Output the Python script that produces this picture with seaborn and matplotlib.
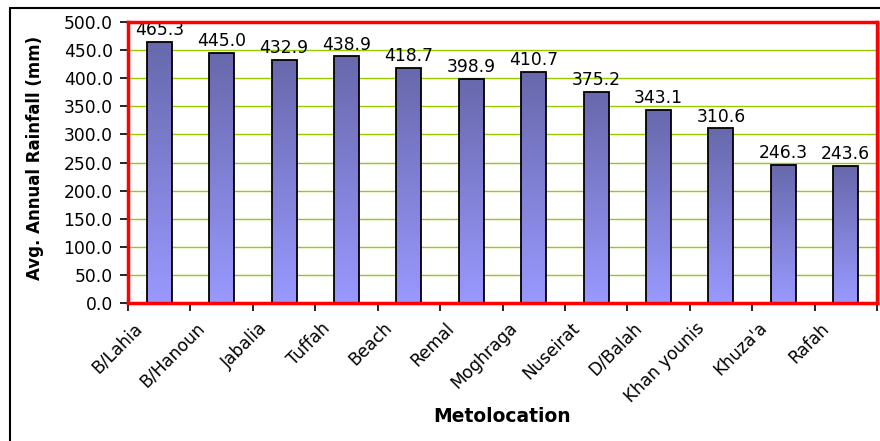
import numpy as np
import pandas as pd
import matplotlib
matplotlib.use("Agg")
import matplotlib.pyplot as plt
import matplotlib.transforms as mtransforms
from matplotlib.colors import LinearSegmentedColormap
import seaborn as sns

locations = ["B/Lahia", "B/Hanoun", "Jabalia", "Tuffah", "Beach", "Remal",
             "Moghraga", "Nuseirat", "D/Balah", "Khan younis", "Khuza'a", "Rafah"]
rainfall = [465.3, 445.0, 432.9, 438.9, 418.7, 398.9, 410.7, 375.2, 343.1, 310.6, 246.3, 243.6]
y_ticks = [0, 50, 100, 150, 200, 250, 300, 350, 400, 450, 500]

df = pd.DataFrame({"Metolocation": locations, "Rainfall": rainfall})

sns.set_theme(style="white")
plt.rcParams["font.family"] = ["DejaVu Sans"]
plt.rcParams["text.color"] = "black"
plt.rcParams["xtick.color"] = "black"
plt.rcParams["ytick.color"] = "black"

W, H = 880, 441
fig = plt.figure(figsize=(W / 100, H / 100), dpi=100)
fig.patch.set_facecolor("white")

left, right, top, bottom = 128, 877, 22, 303
ax = fig.add_axes([left / W, 1 - bottom / H, (right - left) / W, (bottom - top) / H])

sns.barplot(data=df, x="Metolocation", y="Rainfall", ax=ax, width=0.4,
            color="#9999ff", edgecolor="black", linewidth=1.3, zorder=3)

# gradient fill for each bar
cmap = LinearSegmentedColormap.from_list("bar", ["#9999ff", "#6868ac"])
grad = np.linspace(0, 1, 256).reshape(-1, 1)
for p in ax.patches:
    x0, y0 = p.get_x(), p.get_y()
    w, h = p.get_width(), p.get_height()
    im = ax.imshow(grad, cmap=cmap, aspect="auto", origin="lower",
                   extent=[x0, x0 + w, y0, y0 + h], zorder=2.9, interpolation="bilinear")
    im.set_clip_path(p)
    p.set_facecolor("none")
ax.set_xlim(-0.5, len(locations) - 0.5)
ax.set_ylim(0, 500)

# gridlines
ax.set_yticks(y_ticks)
ax.set_yticklabels([f"{v:.1f}" for v in y_ticks])
for v in y_ticks[1:-1]:
    ax.axhline(v, color="#99cc00", linewidth=1.0, zorder=1)

# value labels
for i, v in enumerate(rainfall):
    ax.annotate(f"{v:.1f}", (i, v), xytext=(0, 2), textcoords="offset points",
                ha="center", va="bottom", fontsize=12.3, color="black", zorder=5)

# x ticks at category boundaries, labels at centers
ax.set_xticks(np.arange(-0.5, len(locations), 1.0))
ax.set_xticklabels([])
ax.tick_params(axis="x", which="major", direction="out", length=6, width=1.2,
               color="black", bottom=True)
ax.tick_params(axis="y", direction="out", length=6, width=1.2, color="black",
               left=True, labelsize=12.3, pad=5, labelcolor="black")
offset = mtransforms.ScaledTranslation(-13 / 100, -16 / 100, fig.dpi_scale_trans)
trans = mtransforms.blended_transform_factory(ax.transData, ax.transAxes) + offset
for i, lab in enumerate(locations):
    ax.text(i, 0, lab, transform=trans, rotation=45, ha="right", va="top",
            fontsize=12.3, color="black")

for s in ax.spines.values():
    s.set_color("#ff0000")
    s.set_linewidth(2.5)
    s.set_zorder(6)

ax.set_xlabel("")
ax.set_ylabel("")
fig.text(35 / W, 1 - 158 / H, "Avg. Annual Rainfall (mm)", rotation=90,
         ha="center", va="center", fontsize=12, fontweight="bold", color="black")
fig.text(502 / W, 1 - 417 / H, "Metolocation", ha="center", va="center",
         fontsize=13.5, fontweight="bold", color="black")

# outer chart border (top and left visible)
fig.add_artist(plt.Line2D([10 / W, 10 / W], [0, 1 - 8 / H], transform=fig.transFigure,
                          color="black", linewidth=1.5))
fig.add_artist(plt.Line2D([10 / W, 1], [1 - 8 / H, 1 - 8 / H], transform=fig.transFigure,
                          color="black", linewidth=1.5))

fig.savefig("out.png", dpi=100, facecolor="white")
